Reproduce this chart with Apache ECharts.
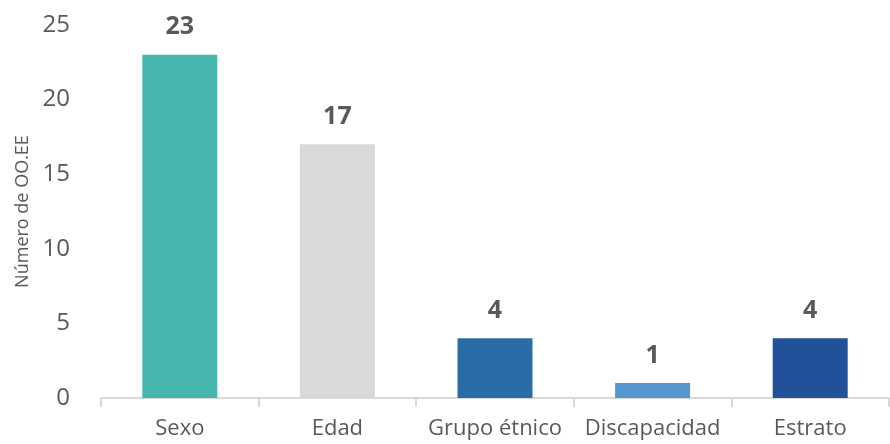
<!DOCTYPE html>
<html>
<head>
<meta charset="utf-8">
<script src="https://cdn.jsdelivr.net/npm/echarts@6/dist/echarts.min.js"></script>
<style>html,body{margin:0;padding:0;background:#fff}#c{width:890px;height:444px}</style>
</head>
<body>
<div id="c"></div>
<script>
const categories = ['Sexo', 'Edad', 'Grupo étnico', 'Discapacidad', 'Estrato'];
const values = [23, 17, 4, 1, 4];
const barColors = ['#46B7AF', '#D9D9D9', '#2A6CA8', '#5596CE', '#22519A'];
const yTicks = { min: 0, max: 25, interval: 5 };
const yName = 'Número de OO.EE';

const font = '"Open Sans", "Noto Sans", sans-serif';
const chart = echarts.init(document.getElementById('c'));
chart.setOption({
  animation: false,
  grid: { left: 101, right: 1, top: 25, bottom: 46 },
  xAxis: {
    type: 'category',
    data: categories,
    axisLine: { show: true, lineStyle: { color: '#D9D9D9', width: 2 } },
    axisTick: { show: true, length: 9, lineStyle: { color: '#D9D9D9', width: 2 } },
    axisLabel: { color: '#595959', fontSize: 22, fontFamily: font, margin: 20, interval: 0 }
  },
  yAxis: {
    type: 'value',
    min: yTicks.min, max: yTicks.max, interval: yTicks.interval,
    name: yName,
    nameLocation: 'middle',
    nameGap: 67,
    nameTextStyle: { color: '#595959', fontSize: 18, fontFamily: font },
    axisLine: { show: false },
    axisTick: { show: false },
    splitLine: { show: false },
    axisLabel: { color: '#595959', fontSize: 24, fontFamily: font, margin: 31 }
  },
  series: [{
    type: 'bar',
    barWidth: 75,
    data: values.map((v, i) => ({ value: v, itemStyle: { color: barColors[i] } })),
    label: {
      show: true, position: 'top', distance: 15,
      color: '#595959', fontSize: 25, fontWeight: 'bold', fontFamily: font
    }
  }]
});
</script>
</body>
</html>
